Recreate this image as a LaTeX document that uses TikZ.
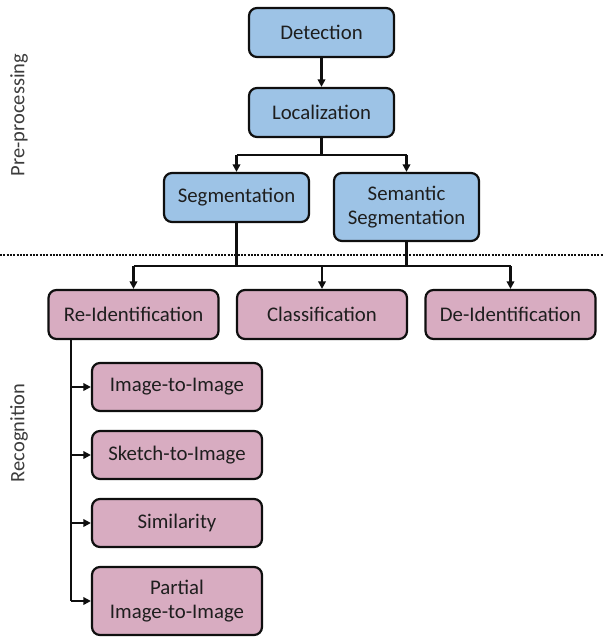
\documentclass[tikz,border=0pt]{standalone}
\usepackage{fontspec}
\setmainfont{Carlito}
\usetikzlibrary{arrows.meta}
\definecolor{bluefill}{RGB}{157,195,230}
\definecolor{pinkfill}{RGB}{216,172,193}
\definecolor{edgecol}{RGB}{15,15,15}
\definecolor{txt}{RGB}{30,30,30}
\definecolor{lbl}{RGB}{60,60,60}
\begin{document}
\begin{tikzpicture}[x=1pt,y=-1pt,
  box/.style={draw=edgecol, line width=2.2pt, rounded corners=8pt, inner sep=0pt,
    align=center, text=txt, font=\fontsize{20.8}{24}\selectfont},
  bbox/.style={box, fill=bluefill, minimum width=145pt, minimum height=49pt},
  pbox/.style={box, fill=pinkfill, minimum width=170pt, minimum height=49pt},
  side/.style={rotate=90, text=lbl, font=\fontsize{20.5}{24}\selectfont, inner sep=0pt},
  conn/.style={draw=edgecol, line width=2.2pt},
  arr/.style={conn, -{Triangle[length=7.5pt,width=7.5pt]}},
  sepline/.style={draw=edgecol, line width=2.2pt, dash pattern=on 2pt off 1.3pt}
]
\useasboundingbox (0,0) rectangle (603,637);

% labels
\node[side] (pre) at (19,115) {Pre-processing};
\node[side] (rec) at (19,433) {Recognition};

% separator
\coordinate (sepL) at (0,255);
\coordinate (sepR) at (603,255);
\draw[sepline] (sepL) -- (sepR);

% pre-processing boxes
\node[bbox] (det) at (321.5,32.5) {Detection};
\node[bbox] (loc) at (321.5,112.5) {Localization};
\node[bbox] (seg) at (236.5,197.5) {Segmentation};
\node[bbox, minimum height=68pt] (sem) at (406.5,207) {Semantic\\Segmentation};

% recognition boxes
\node[pbox] (reid) at (133.5,314.5) {Re-Identification};
\node[pbox] (cls) at (322,314.5) {Classification};
\node[pbox] (deid) at (510.5,314.5) {De-Identification};

\node[pbox, minimum height=48pt] (i2i) at (177,387) {Image-to-Image};
\node[pbox, minimum height=48pt] (s2i) at (177,455) {Sketch-to-Image};
\node[pbox, minimum height=48pt] (sim) at (177,523) {Similarity};
\node[pbox, minimum height=68pt] (part) at (177,601) {Partial\\Image-to-Image};

% connectors
\draw[arr] (det) -- (loc);
\coordinate (split) at (321.5,155);
\draw[conn] (loc.south) -- (split);
\draw[conn] (seg.north |- split) -- (sem.north |- split);
\draw[arr] (seg.north |- split) -- (seg.north);
\draw[arr] (sem.north |- split) -- (sem.north);

\coordinate (bus) at (322,266);
\draw[conn] (seg.south) -- (seg.south |- bus);
\draw[conn] (sem.south) -- (sem.south |- bus);
\draw[conn] (reid.north |- bus) -- (deid.north |- bus);
\draw[arr] (reid.north |- bus) -- (reid.north);
\draw[arr] (cls.north |- bus) -- (cls.north);
\draw[arr] (deid.north |- bus) -- (deid.north);

\coordinate (trk) at (71,0);
\draw[conn] (trk |- reid.south) -- (trk |- part);
\draw[arr] (trk |- i2i) -- (i2i.west);
\draw[arr] (trk |- s2i) -- (s2i.west);
\draw[arr] (trk |- sim) -- (sim.west);
\draw[arr] (trk |- part) -- (part.west);
\end{tikzpicture}
\end{document}
